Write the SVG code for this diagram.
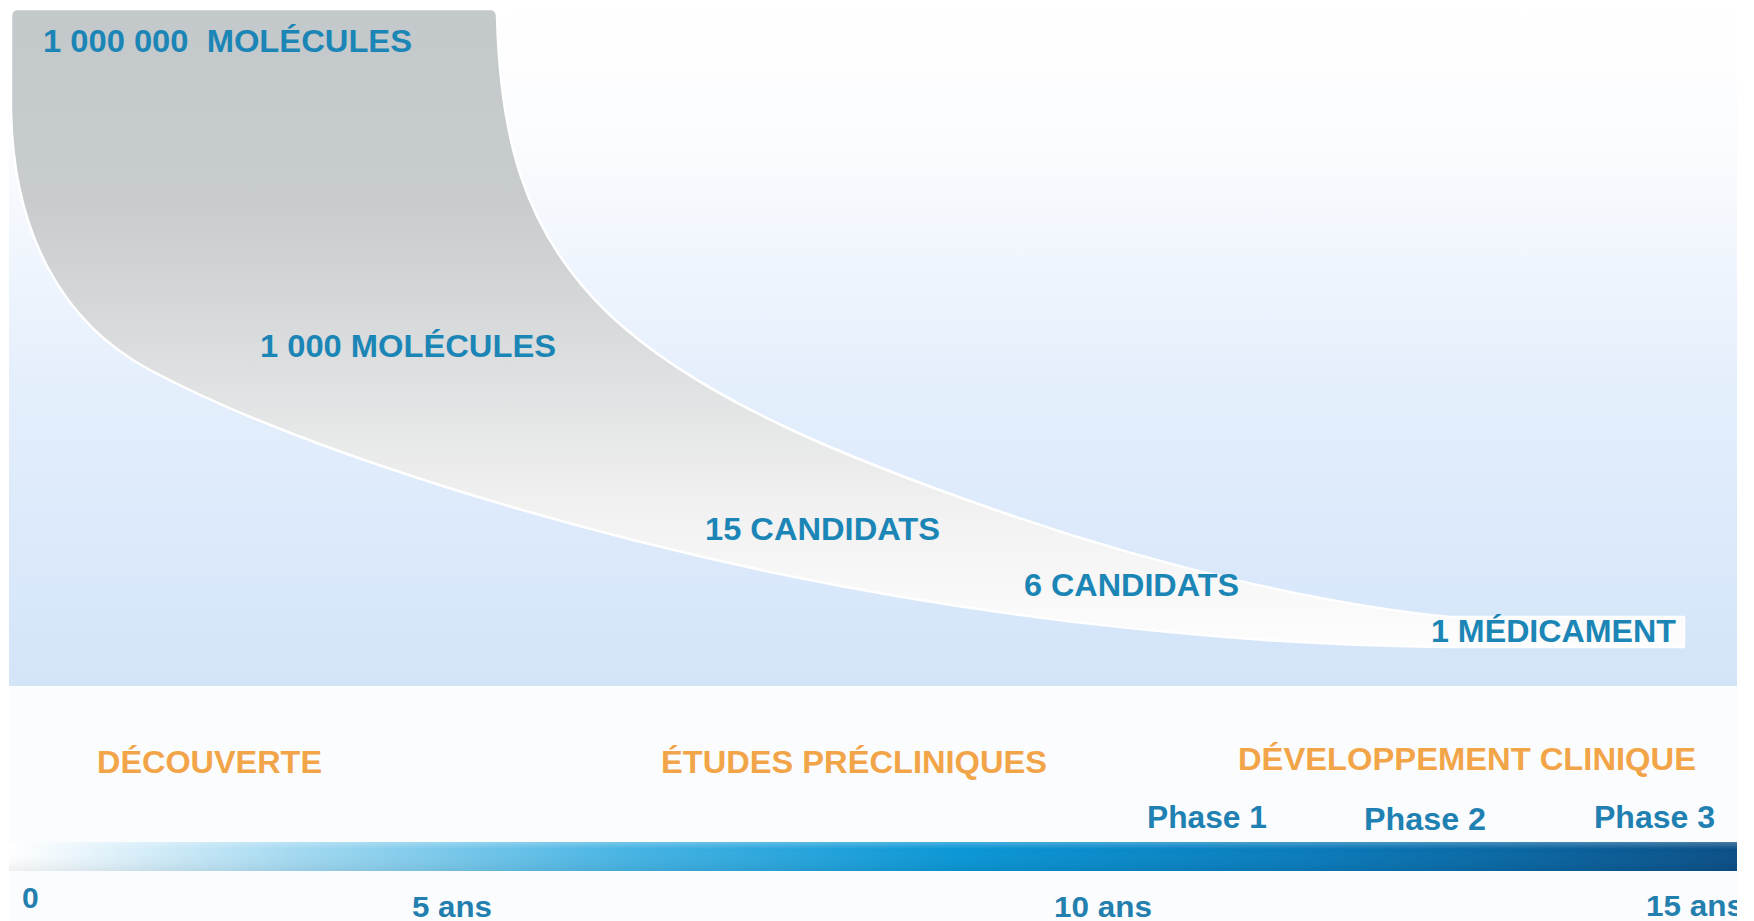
<svg xmlns="http://www.w3.org/2000/svg" width="1754" height="921" viewBox="0 0 1754 921">
  <defs>
    <linearGradient id="skyGrad" x1="0" y1="0" x2="0" y2="1">
      <stop offset="0" stop-color="#ffffff"/>
      <stop offset="0.2" stop-color="#fbfcfe"/>
      <stop offset="0.55" stop-color="#e5effc"/>
      <stop offset="1" stop-color="#d3e4f9"/>
    </linearGradient>
    <linearGradient id="funnelGrad" gradientUnits="userSpaceOnUse" x1="0" y1="9" x2="0" y2="650">
      <stop offset="0" stop-color="#c3c8cb"/>
      <stop offset="0.3" stop-color="#c8ccce"/>
      <stop offset="0.55" stop-color="#dcdedf"/>
      <stop offset="0.78" stop-color="#f1f1f1"/>
      <stop offset="1" stop-color="#fdfdfd"/>
    </linearGradient>
    <linearGradient id="barGrad" x1="0" y1="0" x2="1" y2="0">
      <stop offset="0" stop-color="#ffffff"/>
      <stop offset="0.06" stop-color="#dff1fa"/>
      <stop offset="0.16" stop-color="#a6daf1"/>
      <stop offset="0.36" stop-color="#45b3e3"/>
      <stop offset="0.55" stop-color="#0a96d5"/>
      <stop offset="0.75" stop-color="#0a7bbb"/>
      <stop offset="0.9" stop-color="#0a629d"/>
      <stop offset="1" stop-color="#0b4f86"/>
    </linearGradient>
    <linearGradient id="barShade" x1="0" y1="0" x2="0" y2="1">
      <stop offset="0" stop-color="#ffffff" stop-opacity="0.25"/>
      <stop offset="0.25" stop-color="#ffffff" stop-opacity="0"/>
      <stop offset="1" stop-color="#000000" stop-opacity="0.06"/>
    </linearGradient>
    <clipPath id="pageClip">
      <rect x="0" y="0" width="1737" height="921"/>
    </clipPath>
  </defs>
  <style>
    .count { font-family: "Liberation Sans", Arial, sans-serif; font-weight: bold; font-size: 32px; fill: #1b86b6; }
    .stage { font-family: "Liberation Sans", Arial, sans-serif; font-weight: bold; font-size: 31px; fill: #f2a548; }
    .phase { font-family: "Liberation Sans", Arial, sans-serif; font-weight: bold; font-size: 31px; fill: #1f80b2; }
    .year  { font-family: "Liberation Sans", Arial, sans-serif; font-weight: bold; font-size: 30px; fill: #237fae; }
  </style>

  <!-- page -->
  <rect x="0" y="0" width="1754" height="921" fill="#ffffff"/>
  <rect x="9" y="0" width="1728" height="686" fill="url(#skyGrad)"/>
  <rect x="9" y="686" width="1728" height="235" fill="#fbfcfe"/>

  <!-- attrition funnel -->
  <g id="funnel">
    <path d="M 11,16 Q 11,9 18,9 L 490,9 Q 497,9 497,16
             C 500,130 520,230 610,315
             C 700,400 850,460 1010,515
             C 1170,570 1330,605 1450,617
             L 1684,617 L 1684,647 L 1450,647
             C 1250,646 1000,620 780,574
             C 560,528 300,450 150,370
             C 60,322 13,230 11,110 Z"
          fill="url(#funnelGrad)" stroke="#ffffff" stroke-width="2.5" stroke-linejoin="round"/>
  </g>

  <!-- funnel counts -->
  <g id="count-1000000"><text class="count" x="43" y="52" textLength="369" lengthAdjust="spacingAndGlyphs" xml:space="preserve">1 000 000  MOLÉCULES</text></g>
  <g id="count-1000"><text class="count" x="260" y="357" textLength="296" lengthAdjust="spacingAndGlyphs">1 000 MOLÉCULES</text></g>
  <g id="count-15"><text class="count" x="705" y="540" textLength="235" lengthAdjust="spacingAndGlyphs">15 CANDIDATS</text></g>
  <g id="count-6"><text class="count" x="1024" y="596" textLength="215" lengthAdjust="spacingAndGlyphs">6 CANDIDATS</text></g>
  <g id="count-1"><text class="count" x="1431" y="642" textLength="245" lengthAdjust="spacingAndGlyphs">1 MÉDICAMENT</text></g>

  <!-- stages -->
  <g id="stage-decouverte"><text class="stage" x="97" y="773" textLength="225" lengthAdjust="spacingAndGlyphs">DÉCOUVERTE</text></g>
  <g id="stage-precliniques"><text class="stage" x="661" y="773" textLength="386" lengthAdjust="spacingAndGlyphs">ÉTUDES PRÉCLINIQUES</text></g>
  <g id="stage-clinique"><text class="stage" x="1238" y="770" textLength="458" lengthAdjust="spacingAndGlyphs">DÉVELOPPEMENT CLINIQUE</text></g>

  <!-- clinical phases -->
  <g id="phase-1"><text class="phase" x="1147" y="828" textLength="120" lengthAdjust="spacingAndGlyphs">Phase 1</text></g>
  <g id="phase-2"><text class="phase" x="1364" y="830" textLength="122" lengthAdjust="spacingAndGlyphs">Phase 2</text></g>
  <g id="phase-3"><text class="phase" x="1594" y="828" textLength="121" lengthAdjust="spacingAndGlyphs">Phase 3</text></g>

  <!-- time axis -->
  <g id="timeline">
    <rect x="9" y="842" width="1728" height="29" fill="url(#barGrad)"/>
    <rect x="9" y="842" width="1728" height="29" fill="url(#barShade)"/>
  </g>
  <g id="years" clip-path="url(#pageClip)">
    <text class="year" x="22" y="908">0</text>
    <text class="year" x="412" y="917" textLength="80" lengthAdjust="spacingAndGlyphs">5 ans</text>
    <text class="year" x="1054" y="917" textLength="98" lengthAdjust="spacingAndGlyphs">10 ans</text>
    <text class="year" x="1646" y="916" textLength="98" lengthAdjust="spacingAndGlyphs">15 ans</text>
  </g>
</svg>
